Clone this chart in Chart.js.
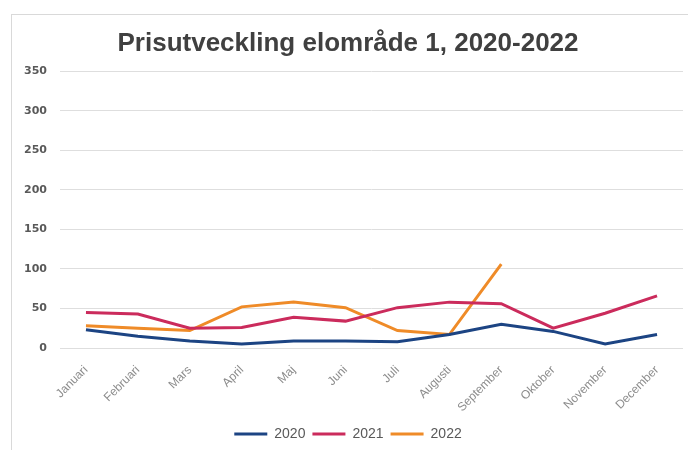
<!DOCTYPE html>
<html>
<head>
<meta charset="utf-8">
<script src="https://cdn.jsdelivr.net/npm/chart.js"></script>
<style>
  html, body { margin: 0; padding: 0; background: #fff; }
  #frame {
    position: absolute; left: 11px; top: 14px; width: 677px; height: 436px;
    border-left: 1px solid #d9d9d9; border-top: 1px solid #d9d9d9;
  }
  #wrap { position: absolute; left: 1px; top: 1px; width: 676px; height: 435px; }
</style>
</head>
<body>
<div id="frame"><div id="wrap"><canvas id="chart"></canvas></div></div>
<script>
// Months and yearly price series (öre/kWh)
const months = ['Januari', 'Februari', 'Mars', 'April', 'Maj', 'Juni', 'Juli', 'Augusti', 'September', 'Oktober', 'November', 'December'];
const prices2020 = [23, 15, 9, 5, 9, 9, 8, 17, 30, 21, 5, 17];
const prices2021 = [45, 43, 25, 26, 39, 34, 51, 58, 56, 25, 44, 66];
const prices2022 = [28, 25, 22, 52, 58, 51, 22, 17, 106, null, null, null];
const yTicks = [0, 50, 100, 150, 200, 250, 300, 350];

const line = (label, data, color) => ({
    label, data,
    borderColor: color, backgroundColor: color,
    borderWidth: 3, pointRadius: 0, tension: 0, spanGaps: false
});

new Chart(document.getElementById('chart'), {
    type: 'line',
    data: {
        labels: months,
        datasets: [
            line('2020', prices2020, '#1c4483'),
            line('2021', prices2021, '#cb2b5c'),
            line('2022', prices2022, '#ef8b28')
        ]
    },
    options: {
        responsive: true,
        maintainAspectRatio: false,
        animation: false,
        layout: { padding: { left: 0, right: 6, top: 4, bottom: 0 } },
        plugins: {
            title: {
                display: true,
                text: 'Prisutveckling elområde 1, 2020-2022',
                color: '#404040',
                font: { family: 'Liberation Sans, Arial', size: 26, weight: 'bold' },
                padding: { top: 8, bottom: 12 }
            },
            legend: {
                position: 'bottom',
                labels: {
                    color: '#595959',
                    font: { family: 'Liberation Sans, Arial', size: 14 },
                    boxWidth: 33, boxHeight: 3, padding: 7,
                    generateLabels: chart => Chart.defaults.plugins.legend.labels.generateLabels(chart)
                        .map(item => Object.assign(item, { lineWidth: 0 }))
                }
            },
            tooltip: { enabled: false }
        },
        scales: {
            x: {
                offset: true,
                afterFit: s => { s.height = 72; },
                grid: { display: false },
                border: { display: false },
                ticks: {
                    color: '#8c8c8c', maxRotation: 45, minRotation: 45, padding: 7,
                    font: { family: 'Liberation Sans, Arial', size: 12 }
                }
            },
            y: {
                min: 0, max: 350,
                afterBuildTicks: s => { s.ticks = yTicks.map(v => ({ value: v })); },
                afterFit: s => { s.width = 47; },
                grid: { color: '#dedede', drawTicks: false },
                border: { display: false },
                ticks: {
                    color: '#595959', padding: 13,
                    font: { family: 'DejaVu Sans', size: 11, weight: 'bold' }
                }
            }
        }
    }
});
</script>
</body>
</html>
